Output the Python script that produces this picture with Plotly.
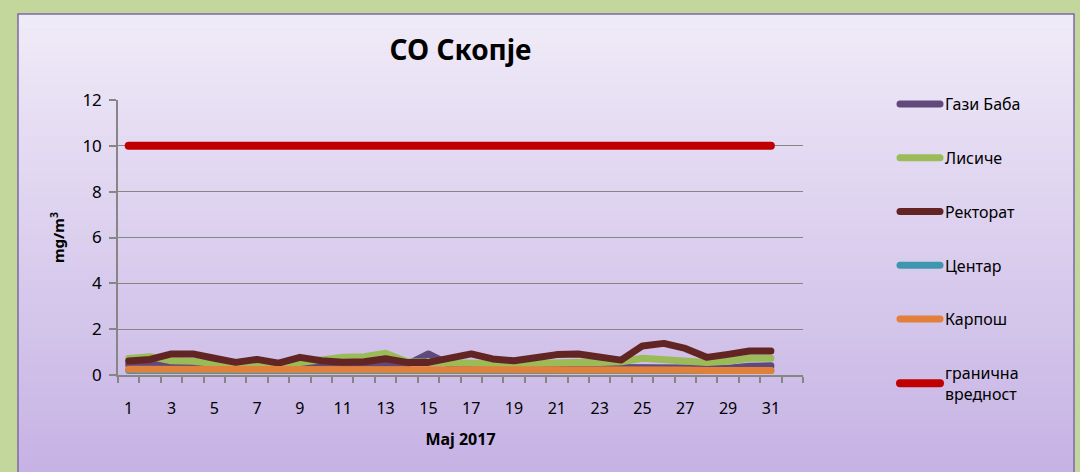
import plotly.graph_objects as go

days = list(range(1, 32))

gazi_baba = [0.45, 0.45, 0.5, 0.5, 0.4, 0.35, 0.35, 0.35, 0.4, 0.4, 0.4, 0.4, 0.45, 0.45, 0.92, 0.45, 0.4, 0.35, 0.35, 0.35, 0.35, 0.35, 0.35, 0.35, 0.35, 0.35, 0.3, 0.3, 0.3, 0.38, 0.4]
lisice = [0.72, 0.8, 0.62, 0.6, 0.5, 0.44, 0.45, 0.42, 0.52, 0.62, 0.78, 0.8, 0.95, 0.58, 0.55, 0.5, 0.5, 0.45, 0.48, 0.5, 0.55, 0.56, 0.55, 0.58, 0.73, 0.68, 0.61, 0.55, 0.6, 0.73, 0.73]
rektorat = [0.61, 0.68, 0.92, 0.92, 0.73, 0.55, 0.68, 0.52, 0.77, 0.62, 0.56, 0.58, 0.71, 0.55, 0.55, 0.74, 0.92, 0.7, 0.62, 0.75, 0.89, 0.92, 0.8, 0.65, 1.27, 1.38, 1.16, 0.77, 0.9, 1.05, 1.05]
centar = [0.2, 0.2, 0.2, 0.2, 0.2, 0.2, 0.2, 0.2, 0.2, 0.2, 0.2, 0.2, 0.2, 0.2, 0.2, 0.2, 0.2, 0.2, 0.2, 0.2, 0.2, 0.2, 0.2, 0.2, 0.2, 0.2, 0.2, 0.2, 0.2, 0.2, 0.2]
karpos = [0.25, 0.25, 0.27, 0.27, 0.25, 0.22, 0.24, 0.23, 0.25, 0.25, 0.25, 0.25, 0.27, 0.25, 0.25, 0.28, 0.25, 0.24, 0.24, 0.24, 0.25, 0.25, 0.24, 0.23, 0.23, 0.22, 0.22, 0.2, 0.2, 0.2, 0.2]
granicna = [10] * 31

series = [
    ("Гази Баба", gazi_baba, "#604A7B", 7),
    ("Лисиче", lisice, "#9BBB59", 7),
    ("Ректорат", rektorat, "#632523", 7),
    ("Центар", centar, "#3F97AF", 7),
    ("Карпош", karpos, "#E0803B", 7),
    ("гранична<br>вредност", granicna, "#C00000", 8),
]

x_tickvals = list(range(1, 32, 2))
x_ticktext = [str(v) for v in x_tickvals]

FONT = "Comic Sans MS, Noto Sans, DejaVu Sans, sans-serif"

fig = go.Figure()
for i, (name, vals, color, w) in enumerate(series):
    fig.add_trace(go.Scatter(
        x=days, y=vals, name=name, mode="lines",
        line=dict(color=color, width=w),
        legendgroup=f"g{i}",
    ))

# background gradient panel (approximated with bands)
shapes = []
W, H = 1080, 472
pl, pr, pt, pb = 118, 803, 100, 375


def px_to_paper_x(px):
    return (px - pl) / (pr - pl)


def px_to_paper_y(py):
    return (pb - py) / (pb - pt)


top_c = (0xF0, 0xEB, 0xF8)
bot_c = (0xC6, 0xB2, 0xE4)
y_top, y_bot = 14, 472
n = 60
for k in range(n):
    t = (k + 0.5) / n
    c = tuple(int(round(top_c[j] + (bot_c[j] - top_c[j]) * t)) for j in range(3))
    ya = y_top + (y_bot - y_top) * k / n
    yb = y_top + (y_bot - y_top) * (k + 1) / n + 0.5
    shapes.append(dict(
        type="rect", xref="paper", yref="paper", layer="below",
        x0=px_to_paper_x(18), x1=px_to_paper_x(1074),
        y0=px_to_paper_y(yb), y1=px_to_paper_y(ya),
        fillcolor="rgb(%d,%d,%d)" % c, line=dict(width=0),
    ))
shapes.append(dict(
    type="rect", xref="paper", yref="paper", layer="below",
    x0=px_to_paper_x(18), x1=px_to_paper_x(1074),
    y0=px_to_paper_y(476), y1=px_to_paper_y(14),
    fillcolor="rgba(0,0,0,0)", line=dict(color="#7E68A6", width=1.5),
))

fig.update_layout(
    width=W, height=H,
    margin=dict(l=pl, r=W - pr, t=pt, b=H - pb, autoexpand=False),
    paper_bgcolor="#C3D69B",
    plot_bgcolor="rgba(0,0,0,0)",
    shapes=shapes,
    title=dict(text="<b>CO Скопје</b>", x=0.5, xref="paper", xanchor="center",
               y=1 - 50 / H, yanchor="middle",
               font=dict(family=FONT, size=28, color="black")),
    font=dict(family=FONT, color="black"),
    showlegend=True,
    legend=dict(
        x=px_to_paper_x(895), y=px_to_paper_y(87), xanchor="left", yanchor="top",
        bgcolor="rgba(0,0,0,0)", font=dict(family=FONT, size=16, color="black"),
        traceorder="grouped", tracegroupgap=30, itemwidth=40, maxheight=440,
    ),
    xaxis=dict(
        range=[0.5, 32.5], tickmode="array", tickvals=x_tickvals, ticktext=x_ticktext,
        ticks="", showgrid=False, zeroline=False,
        showline=True, linecolor="#868686", linewidth=1.5,
        tickfont=dict(family=FONT, size=16, color="black"),
        ticklabelstandoff=18,
        minor=dict(tick0=0.5, dtick=1, ticks="outside", ticklen=6, tickcolor="#868686",
                   tickwidth=1.5, showgrid=False),
        title=dict(text="<b>Мај 2017</b>", font=dict(family=FONT, size=16, color="black"),
                   standoff=16),
    ),
    yaxis=dict(
        range=[0, 12], tickmode="linear", tick0=0, dtick=2,
        ticks="outside", ticklen=7, tickcolor="#868686", tickwidth=1.5,
        showgrid=True, gridcolor="#868686", gridwidth=1.2, zeroline=False,
        showline=True, linecolor="#868686", linewidth=1.5,
        tickfont=dict(family=FONT, size=17, color="black"),
        ticklabelstandoff=4,
        title=dict(text="<b>mg/m<sup>3</sup></b>", font=dict(family=FONT, size=15, color="black"),
                   standoff=14),
    ),
)

post = (
    "document.body.style.margin='0';document.body.style.padding='0';"
    "var s=document.createElement('style');"
    "s.textContent='.scatterlayer .js-line,.legendlines .js-line{stroke-linecap:round;stroke-linejoin:round;}';"
    "document.head.appendChild(s);"
)

fig.write_html("out.html", post_script=post, config={"displayModeBar": False})
